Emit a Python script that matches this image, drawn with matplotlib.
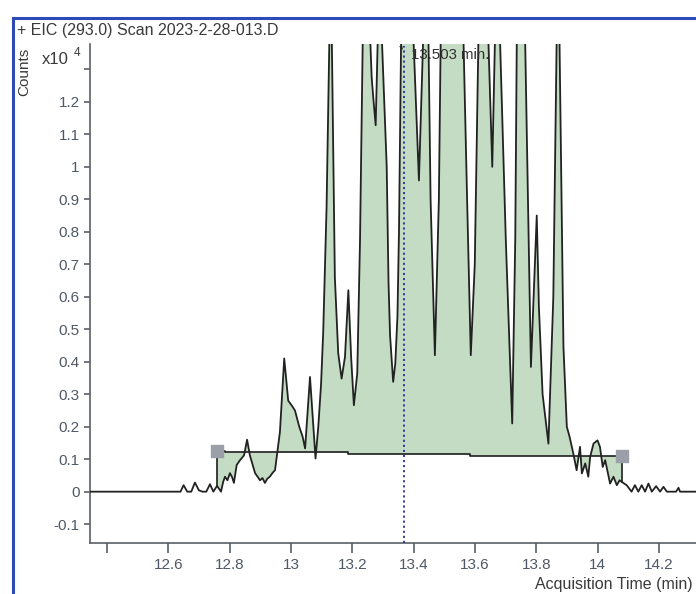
import matplotlib
matplotlib.use('Agg')
import matplotlib.pyplot as plt
from matplotlib.lines import Line2D
import numpy as np

plt.rcParams['font.family'] = ['Liberation Sans', 'DejaVu Sans']

# EIC trace, time in min, intensity in counts x10^4 (peaks above 1.38 are off-scale)
time_min = [
    12.345, 12.640, 12.650, 12.662, 12.675, 12.687, 12.700, 12.712, 12.724, 12.736,
    12.747, 12.759, 12.772, 12.779, 12.785, 12.793, 12.801, 12.808, 12.814, 12.823,
    12.834, 12.847, 12.857, 12.866, 12.883, 12.892, 12.899, 12.907, 12.915, 12.923,
    12.931, 12.940, 12.948, 12.955, 12.964, 12.978, 12.991, 13.002, 13.013, 13.027,
    13.038, 13.046, 13.062, 13.080, 13.089, 13.098, 13.105, 13.116, 13.125, 13.129,
    13.133, 13.143, 13.154, 13.165, 13.176, 13.187, 13.196, 13.205, 13.216, 13.225,
    13.234, 13.245, 13.258, 13.263, 13.268, 13.276, 13.283, 13.289, 13.296, 13.312,
    13.318, 13.323, 13.333, 13.340, 13.347, 13.352, 13.359, 13.378, 13.399, 13.417,
    13.431, 13.440, 13.448, 13.455, 13.469, 13.482, 13.488, 13.525, 13.562, 13.574,
    13.586, 13.599, 13.611, 13.626, 13.643, 13.656, 13.665, 13.673, 13.681, 13.700,
    13.721, 13.731, 13.736, 13.747, 13.763, 13.782, 13.801, 13.808, 13.820, 13.839,
    13.855, 13.866, 13.870, 13.875, 13.888, 13.899, 13.908, 13.920, 13.931, 13.942,
    13.948, 13.959, 13.969, 13.975, 13.986, 13.999, 14.007, 14.016, 14.024, 14.031,
    14.040, 14.051, 14.062, 14.071, 14.078, 14.094, 14.110, 14.121, 14.132, 14.143,
    14.154, 14.165, 14.176, 14.190, 14.203, 14.214, 14.225, 14.255, 14.263, 14.268,
    14.320,
]
counts_e4 = [
    0.0, 0.0, 0.020, 0.0, 0.0, 0.028, 0.004, 0.0, 0.0, 0.023,
    0.0, 0.018, 0.0, 0.030, 0.046, 0.035, 0.057, 0.045, 0.027, 0.082,
    0.097, 0.112, 0.160, 0.112, 0.057, 0.045, 0.035, 0.042, 0.027, 0.040,
    0.046, 0.058, 0.066, 0.118, 0.184, 0.410, 0.280, 0.266, 0.250, 0.200,
    0.169, 0.133, 0.353, 0.102, 0.200, 0.330, 0.490, 0.876, 1.40, 1.60,
    1.40, 0.660, 0.426, 0.348, 0.415, 0.620, 0.415, 0.266, 0.364, 0.774,
    1.40, 1.70, 1.40, 1.276, 1.215, 1.128, 1.40, 1.60, 1.40, 1.000,
    0.640, 0.480, 0.338, 0.395, 0.540, 0.800, 1.40, 1.80, 1.40, 0.958,
    1.40, 1.60, 1.40, 0.900, 0.420, 0.900, 1.40, 2.00, 1.40, 0.900,
    0.420, 0.700, 1.40, 1.70, 1.40, 1.000, 1.40, 1.50, 1.40, 0.780,
    0.210, 0.780, 1.40, 1.60, 1.40, 0.384, 0.850, 0.569, 0.300, 0.148,
    0.600, 1.40, 1.60, 1.40, 0.446, 0.200, 0.169, 0.118, 0.066, 0.138,
    0.056, 0.087, 0.046, 0.107, 0.148, 0.158, 0.138, 0.076, 0.097, 0.066,
    0.025, 0.046, 0.020, 0.035, 0.030, 0.020, 0.0, 0.020, 0.0, 0.020,
    0.0, 0.025, 0.0, 0.017, 0.0, 0.015, 0.0, 0.0, 0.012, 0.0,
    0.0,
]

# integration baseline (step levels between edges) and its end markers
base_edges = [12.759, 12.785, 13.186, 13.584, 14.078]
base_levels = [0.125, 0.121, 0.116, 0.110]
marker_t = [12.759, 14.078]
marker_y = [0.126, 0.109]

cursor_t = 13.368
peak_label = '13.503 min.'

x_ticks = [12.4, 12.6, 12.8, 13.0, 13.2, 13.4, 13.6, 13.8, 14.0, 14.2]
x_labels = ['', '12.6', '12.8', '13', '13.2', '13.4', '13.6', '13.8', '14', '14.2']
y_ticks = [-0.1, 0, 0.1, 0.2, 0.3, 0.4, 0.5, 0.6, 0.7, 0.8, 0.9, 1.0, 1.1, 1.2, 1.3]
y_labels = ['-0.1', '0', '0.1', '0.2', '0.3', '0.4', '0.5', '0.6', '0.7', '0.8',
            '0.9', '1', '1.1', '1.2', '']

W, H = 696, 594
fig = plt.figure(figsize=(W / 100, H / 100), dpi=100)
ax = fig.add_axes([90 / W, 1 - 543 / H, 1 - 90 / W, (543 - 44) / H])

t = np.array(time_min)
y = np.array(counts_e4)
edges = np.array(base_edges)
levels = np.array(base_levels)

# fill between trace and baseline inside the integration window
sel = (t >= edges[0]) & (t <= edges[-1])
idx = np.clip(np.searchsorted(edges, t[sel], side='right') - 1, 0, len(levels) - 1)
ax.fill_between(t[sel], y[sel], levels[idx], color='#c3dcc3', lw=0, zorder=1)

# baseline drawn as steps
bx = np.repeat(edges, 2)[1:-1]
by = np.repeat(levels, 2)
ax.plot(bx, by, color='#1e1e1e', lw=1.2, zorder=3)
ax.plot([edges[0], edges[0]], [y[sel][0], levels[0]], color='#1e1e1e', lw=1.2, zorder=3)
ax.plot([edges[-1], edges[-1]], [y[sel][-1], levels[-1]], color='#1e1e1e', lw=1.2, zorder=3)

ax.plot(t, y, color='#222222', lw=1.3, zorder=4)
ax.plot(marker_t, marker_y, ls='none', marker='s', ms=8, color='#9a9fa8', zorder=5)

ax.axvline(cursor_t, color='#2a2f9a', ls=(0, (1.2, 1.6)), lw=1.3, ymax=0.995, zorder=6)

ax.set_xlim(12.345, 14.32)
ax.set_ylim(-0.158, 1.378)

tick_col = '#4f5866'
ax.set_xticks(x_ticks)
ax.set_xticklabels(x_labels)
ax.set_yticks(y_ticks)
ax.set_yticklabels(y_labels)
ax.tick_params(axis='x', length=7.5, width=1.2, color='#5a6068', pad=3,
               labelsize=11, labelcolor=tick_col)
ax.tick_params(axis='y', length=4.5, width=1.2, color='#5a6068', pad=3,
               labelsize=11, labelcolor=tick_col)
for s in ['top', 'right']:
    ax.spines[s].set_visible(False)
for s in ['left', 'bottom']:
    ax.spines[s].set_color('#5a6068')
    ax.spines[s].set_linewidth(1.2)

# peak label
fig.text(401 / W, 1 - 50 / H, '*', fontsize=9, color='#222222', ha='center', va='center')
fig.text(411 / W, 1 - 55 / H, peak_label, fontsize=10.8, color='#303030', ha='left', va='center')

# outer frame and text
fig.add_artist(Line2D([13 / W, 1], [1 - 18 / H, 1 - 18 / H], color='#2d4bb5', lw=2.2))
fig.add_artist(Line2D([13 / W, 13 / W], [0, 1 - 18 / H], color='#2d4bb5', lw=2.2))
fig.text(17 / W, 1 - 31 / H, '+ EIC (293.0) Scan 2023-2-28-013.D', fontsize=11.5,
         color='#3a3a3a', ha='left', va='center')
fig.text(24 / W, 1 - 72 / H, 'Counts', fontsize=11, rotation=90, color='#3a3a3a',
         ha='center', va='center')
fig.text(42 / W, 1 - 59 / H, 'x10', fontsize=12, color='#3a3a3a', ha='left', va='center')
fig.text(74 / W, 1 - 53 / H, '4', fontsize=8.5, color='#3a3a3a', ha='left', va='center')
fig.text(693 / W, 1 - 585 / H, 'Acquisition Time (min)', fontsize=11.5, color='#3a3a3a',
         ha='right', va='center')

fig.savefig('out.png', dpi=100)
